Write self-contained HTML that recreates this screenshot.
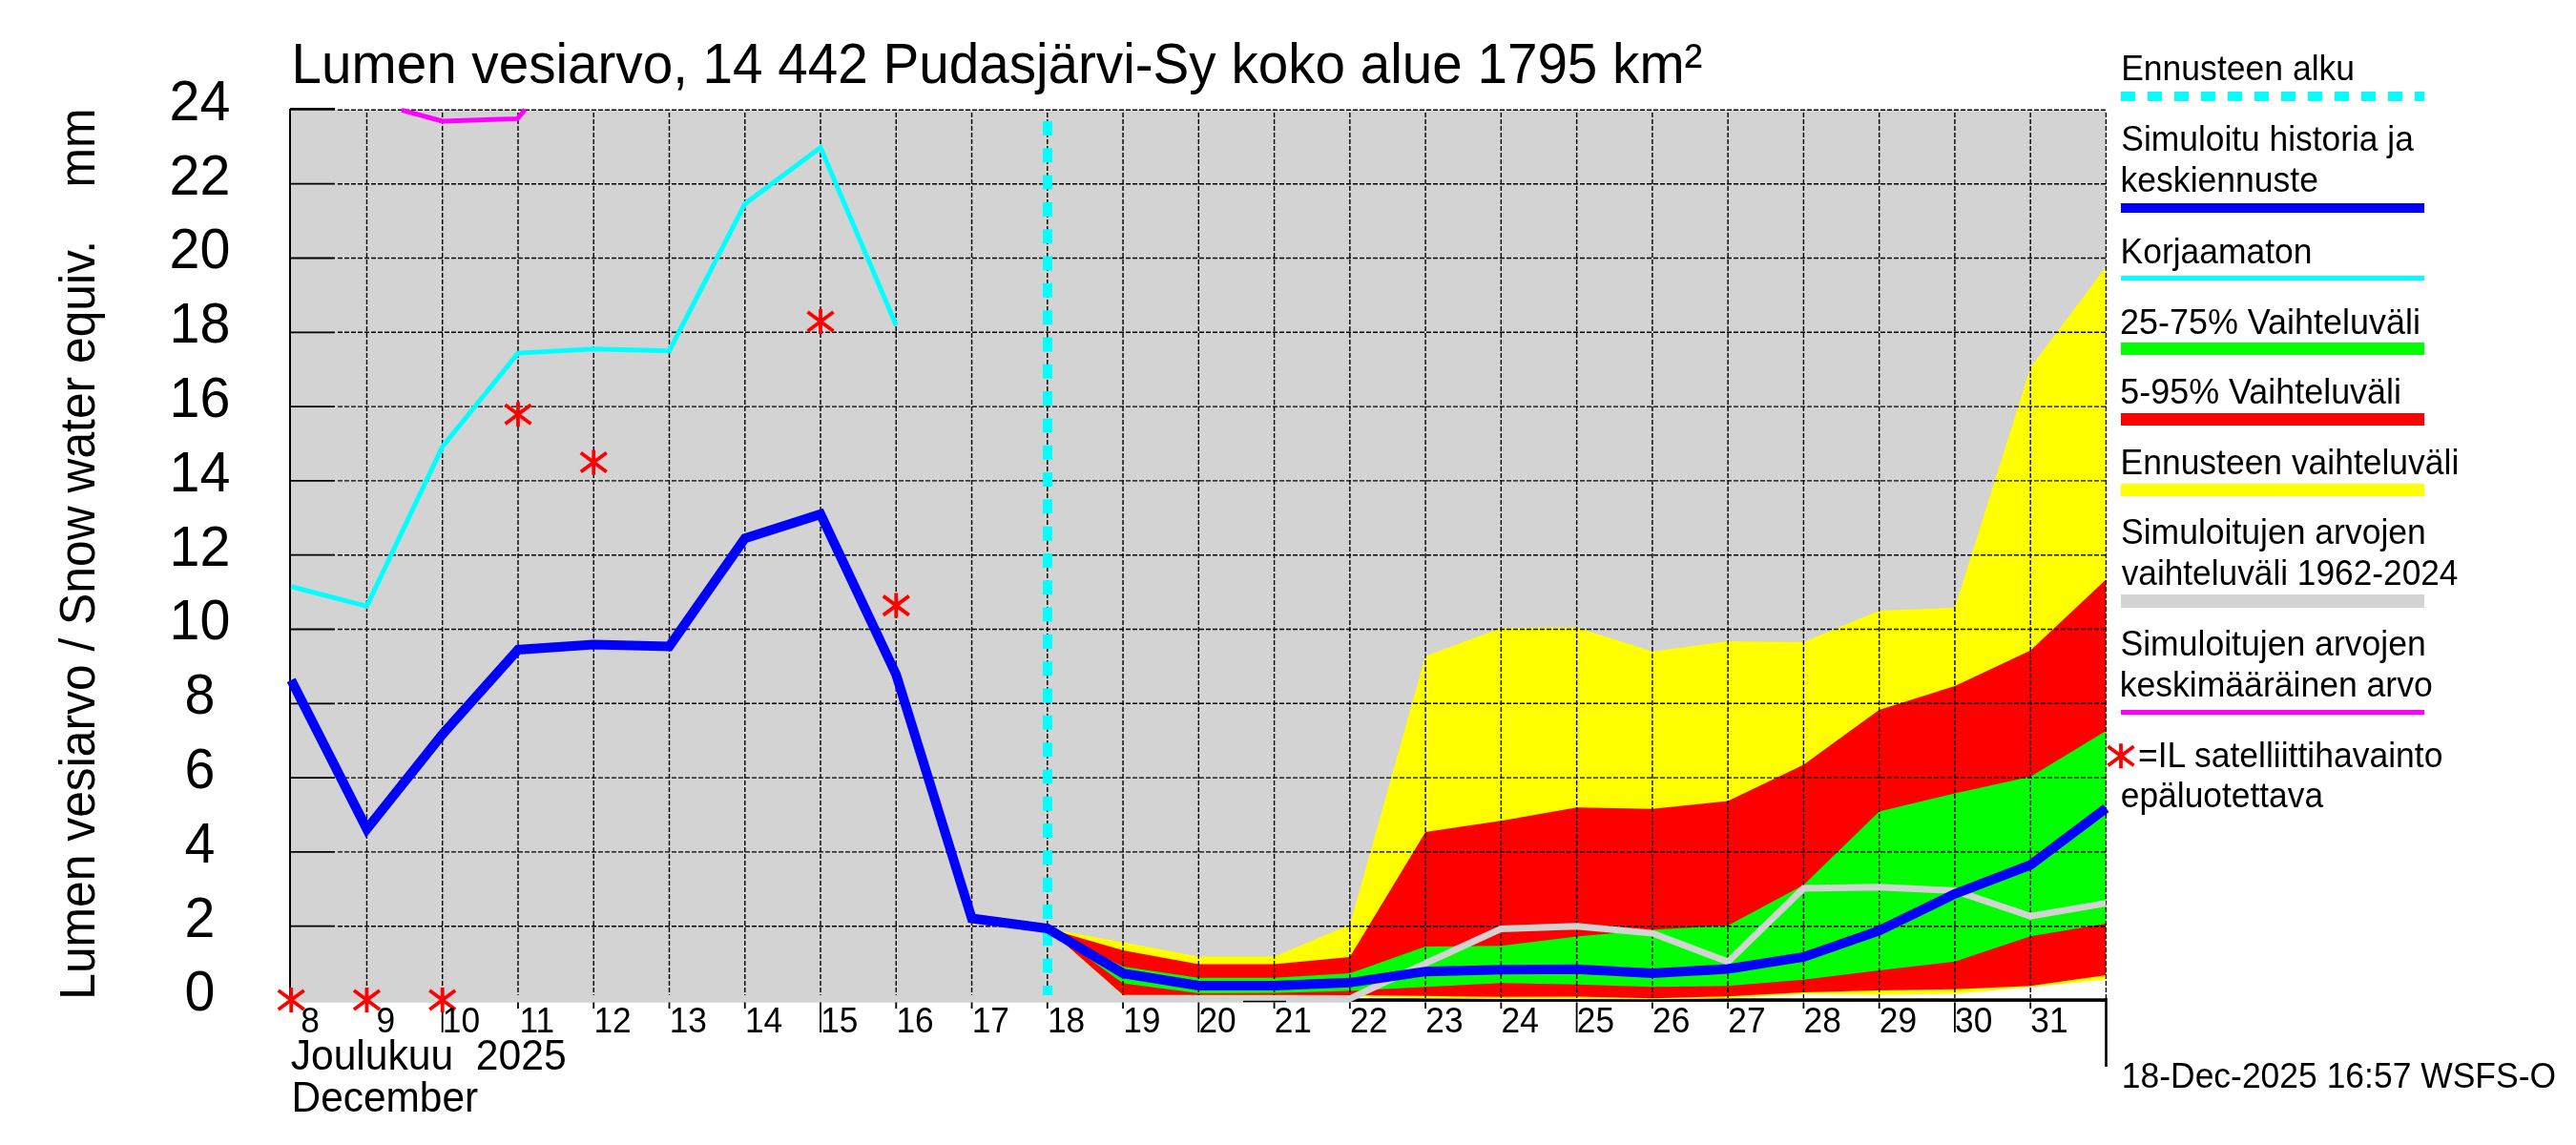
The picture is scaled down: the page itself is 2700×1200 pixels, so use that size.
<!DOCTYPE html><html><head><meta charset="utf-8"><style>html,body{margin:0;padding:0;background:#fff;width:2700px;height:1200px;overflow:hidden}</style></head><body><svg width="2700" height="1200" viewBox="0 0 2700 1200" style="display:block;white-space:pre;will-change:transform" font-family="Liberation Sans" xml:space="preserve">
<rect x="0" y="0" width="2700" height="1200" fill="#ffffff"/>
<defs><clipPath id="pc"><rect x="304" y="112.5" width="1903.6" height="938.3"/></clipPath><clipPath id="pc2"><rect x="304" y="115" width="1903.6" height="935.8"/></clipPath></defs>
<g clip-path="url(#pc2)">
<polygon points="305.20,115 2207.44,115 2207.44,946.58 2128.18,960.20 2048.92,933.36 1969.66,929.86 1890.40,931.02 1811.14,1008.04 1731.88,978.09 1652.62,970.70 1573.36,973.42 1494.10,1009.60 1414.84,1046.56 1335.58,1046.56 1256.32,1046.56 1177.06,1046.56 1097.80,1046.56 1018.54,1046.56 939.28,1046.56 860.02,1046.56 780.76,1046.56 701.50,1046.56 622.24,1046.56 542.98,1046.56 463.72,1046.56 384.46,1046.56 305.20,1046.56 305.20,1052" fill="#d3d3d3"/>
<rect x="304" y="1046" width="1110" height="5" fill="#d3d3d3"/>
<rect x="304" y="1046.3" width="1903.6" height="3.6" fill="#000"/>
<polygon points="1097.80,973.03 1177.06,987.43 1256.32,1002.60 1335.58,1002.60 1414.84,969.14 1494.10,687.51 1573.36,658.33 1652.62,657.56 1731.88,682.84 1811.14,671.95 1890.40,673.12 1969.66,640.05 2048.92,636.94 2128.18,385.25 2207.44,279.45 2207.44,1026.72 2128.18,1034.50 2048.92,1041.50 1969.66,1042.66 1890.40,1041.89 1811.14,1046.17 1731.88,1047.33 1652.62,1046.94 1573.36,1046.94 1494.10,1046.17 1414.84,1044.61 1335.58,1043.05 1256.32,1043.05 1177.06,1043.05 1097.80,973.03" fill="#ffff00"/>
<polygon points="1097.80,973.03 1177.06,995.99 1256.32,1010.38 1335.58,1010.38 1414.84,1002.99 1494.10,871.89 1573.36,860.22 1652.62,846.22 1731.88,847.78 1811.14,839.61 1890.40,801.49 1969.66,743.91 2048.92,719.02 2128.18,681.67 2207.44,607.37 2207.44,1022.05 2128.18,1033.33 2048.92,1036.83 1969.66,1038.00 1890.40,1039.94 1811.14,1044.22 1731.88,1046.17 1652.62,1044.61 1573.36,1044.80 1494.10,1043.83 1414.84,1043.05 1335.58,1042.66 1256.32,1042.66 1177.06,1042.66 1097.80,973.03" fill="#ff0000"/>
<polygon points="1097.80,973.03 1177.06,1013.10 1256.32,1024.77 1335.58,1024.77 1414.84,1020.10 1494.10,992.10 1573.36,991.32 1652.62,981.59 1731.88,974.59 1811.14,969.92 1890.40,927.52 1969.66,850.50 2048.92,831.44 2128.18,813.93 2207.44,766.09 2207.44,967.98 2128.18,981.20 2048.92,1007.65 1969.66,1016.99 1890.40,1026.72 1811.14,1033.33 1731.88,1034.30 1652.62,1031.77 1573.36,1030.22 1494.10,1034.30 1414.84,1038.39 1335.58,1040.72 1256.32,1041.11 1177.06,1030.61 1097.80,973.03" fill="#00ff00"/>
</g>
<g stroke="#000" fill="none">
<line x1="354" y1="1048.50" x2="2207.6" y2="1048.50" stroke-width="1.4" stroke-dasharray="5 2"/>
<line x1="304" y1="1048.50" x2="351" y2="1048.50" stroke-width="1.8"/>
<line x1="354" y1="970.70" x2="2207.6" y2="970.70" stroke-width="1.4" stroke-dasharray="5 2"/>
<line x1="304" y1="970.70" x2="351" y2="970.70" stroke-width="1.8"/>
<line x1="354" y1="892.90" x2="2207.6" y2="892.90" stroke-width="1.4" stroke-dasharray="5 2"/>
<line x1="304" y1="892.90" x2="351" y2="892.90" stroke-width="1.8"/>
<line x1="354" y1="815.10" x2="2207.6" y2="815.10" stroke-width="1.4" stroke-dasharray="5 2"/>
<line x1="304" y1="815.10" x2="351" y2="815.10" stroke-width="1.8"/>
<line x1="354" y1="737.30" x2="2207.6" y2="737.30" stroke-width="1.4" stroke-dasharray="5 2"/>
<line x1="304" y1="737.30" x2="351" y2="737.30" stroke-width="1.8"/>
<line x1="354" y1="659.50" x2="2207.6" y2="659.50" stroke-width="1.4" stroke-dasharray="5 2"/>
<line x1="304" y1="659.50" x2="351" y2="659.50" stroke-width="1.8"/>
<line x1="354" y1="581.70" x2="2207.6" y2="581.70" stroke-width="1.4" stroke-dasharray="5 2"/>
<line x1="304" y1="581.70" x2="351" y2="581.70" stroke-width="1.8"/>
<line x1="354" y1="503.90" x2="2207.6" y2="503.90" stroke-width="1.4" stroke-dasharray="5 2"/>
<line x1="304" y1="503.90" x2="351" y2="503.90" stroke-width="1.8"/>
<line x1="354" y1="426.10" x2="2207.6" y2="426.10" stroke-width="1.4" stroke-dasharray="5 2"/>
<line x1="304" y1="426.10" x2="351" y2="426.10" stroke-width="1.8"/>
<line x1="354" y1="348.30" x2="2207.6" y2="348.30" stroke-width="1.4" stroke-dasharray="5 2"/>
<line x1="304" y1="348.30" x2="351" y2="348.30" stroke-width="1.8"/>
<line x1="354" y1="270.50" x2="2207.6" y2="270.50" stroke-width="1.4" stroke-dasharray="5 2"/>
<line x1="304" y1="270.50" x2="351" y2="270.50" stroke-width="1.8"/>
<line x1="354" y1="192.70" x2="2207.6" y2="192.70" stroke-width="1.4" stroke-dasharray="5 2"/>
<line x1="304" y1="192.70" x2="351" y2="192.70" stroke-width="1.8"/>
<line x1="354" y1="115.20" x2="2207.6" y2="115.20" stroke-width="1.4" stroke-dasharray="5 2"/>
<line x1="304" y1="114.30" x2="351" y2="114.30" stroke-width="2.8"/>
<line x1="384.46" y1="118" x2="384.46" y2="1046" stroke-width="1.4" stroke-dasharray="5 2"/>
<line x1="463.72" y1="118" x2="463.72" y2="1046" stroke-width="1.4" stroke-dasharray="5 2"/>
<line x1="542.98" y1="118" x2="542.98" y2="1046" stroke-width="1.4" stroke-dasharray="5 2"/>
<line x1="622.24" y1="118" x2="622.24" y2="1046" stroke-width="1.4" stroke-dasharray="5 2"/>
<line x1="701.50" y1="118" x2="701.50" y2="1046" stroke-width="1.4" stroke-dasharray="5 2"/>
<line x1="780.76" y1="118" x2="780.76" y2="1046" stroke-width="1.4" stroke-dasharray="5 2"/>
<line x1="860.02" y1="118" x2="860.02" y2="1046" stroke-width="1.4" stroke-dasharray="5 2"/>
<line x1="939.28" y1="118" x2="939.28" y2="1046" stroke-width="1.4" stroke-dasharray="5 2"/>
<line x1="1018.54" y1="118" x2="1018.54" y2="1046" stroke-width="1.4" stroke-dasharray="5 2"/>
<line x1="1097.80" y1="118" x2="1097.80" y2="1046" stroke-width="1.4" stroke-dasharray="5 2"/>
<line x1="1177.06" y1="118" x2="1177.06" y2="1046" stroke-width="1.4" stroke-dasharray="5 2"/>
<line x1="1256.32" y1="118" x2="1256.32" y2="1046" stroke-width="1.4" stroke-dasharray="5 2"/>
<line x1="1335.58" y1="118" x2="1335.58" y2="1046" stroke-width="1.4" stroke-dasharray="5 2"/>
<line x1="1414.84" y1="118" x2="1414.84" y2="1046" stroke-width="1.4" stroke-dasharray="5 2"/>
<line x1="1494.10" y1="118" x2="1494.10" y2="1046" stroke-width="1.4" stroke-dasharray="5 2"/>
<line x1="1573.36" y1="118" x2="1573.36" y2="1046" stroke-width="1.4" stroke-dasharray="5 2"/>
<line x1="1652.62" y1="118" x2="1652.62" y2="1046" stroke-width="1.4" stroke-dasharray="5 2"/>
<line x1="1731.88" y1="118" x2="1731.88" y2="1046" stroke-width="1.4" stroke-dasharray="5 2"/>
<line x1="1811.14" y1="118" x2="1811.14" y2="1046" stroke-width="1.4" stroke-dasharray="5 2"/>
<line x1="1890.40" y1="118" x2="1890.40" y2="1046" stroke-width="1.4" stroke-dasharray="5 2"/>
<line x1="1969.66" y1="118" x2="1969.66" y2="1046" stroke-width="1.4" stroke-dasharray="5 2"/>
<line x1="2048.92" y1="118" x2="2048.92" y2="1046" stroke-width="1.4" stroke-dasharray="5 2"/>
<line x1="2128.18" y1="118" x2="2128.18" y2="1046" stroke-width="1.4" stroke-dasharray="5 2"/>
<line x1="2207.44" y1="118" x2="2207.44" y2="1046" stroke-width="1.4" stroke-dasharray="5 2"/>
<line x1="304" y1="114" x2="304" y2="1050" stroke-width="2"/>
<line x1="384.46" y1="1050.5" x2="384.46" y2="1057" stroke-width="1.8"/>
<line x1="463.72" y1="1050.5" x2="463.72" y2="1082" stroke-width="1.8"/>
<line x1="542.98" y1="1050.5" x2="542.98" y2="1057" stroke-width="1.8"/>
<line x1="622.24" y1="1050.5" x2="622.24" y2="1057" stroke-width="1.8"/>
<line x1="701.50" y1="1050.5" x2="701.50" y2="1057" stroke-width="1.8"/>
<line x1="780.76" y1="1050.5" x2="780.76" y2="1057" stroke-width="1.8"/>
<line x1="860.02" y1="1050.5" x2="860.02" y2="1082" stroke-width="1.8"/>
<line x1="939.28" y1="1050.5" x2="939.28" y2="1057" stroke-width="1.8"/>
<line x1="1018.54" y1="1050.5" x2="1018.54" y2="1057" stroke-width="1.8"/>
<line x1="1097.80" y1="1050.5" x2="1097.80" y2="1057" stroke-width="1.8"/>
<line x1="1177.06" y1="1050.5" x2="1177.06" y2="1057" stroke-width="1.8"/>
<line x1="1256.32" y1="1050.5" x2="1256.32" y2="1082" stroke-width="1.8"/>
<line x1="1335.58" y1="1050.5" x2="1335.58" y2="1057" stroke-width="1.8"/>
<line x1="1414.84" y1="1050.5" x2="1414.84" y2="1057" stroke-width="1.8"/>
<line x1="1494.10" y1="1050.5" x2="1494.10" y2="1057" stroke-width="1.8"/>
<line x1="1573.36" y1="1050.5" x2="1573.36" y2="1057" stroke-width="1.8"/>
<line x1="1652.62" y1="1050.5" x2="1652.62" y2="1082" stroke-width="1.8"/>
<line x1="1731.88" y1="1050.5" x2="1731.88" y2="1057" stroke-width="1.8"/>
<line x1="1811.14" y1="1050.5" x2="1811.14" y2="1057" stroke-width="1.8"/>
<line x1="1890.40" y1="1050.5" x2="1890.40" y2="1057" stroke-width="1.8"/>
<line x1="1969.66" y1="1050.5" x2="1969.66" y2="1057" stroke-width="1.8"/>
<line x1="2048.92" y1="1050.5" x2="2048.92" y2="1082" stroke-width="1.8"/>
<line x1="2128.18" y1="1050.5" x2="2128.18" y2="1057" stroke-width="1.8"/>
</g>
<g clip-path="url(#pc2)">
<polyline points="305.20,1046.56 384.46,1046.56 463.72,1046.56 542.98,1046.56 622.24,1046.56 701.50,1046.56 780.76,1046.56 860.02,1046.56 939.28,1046.56 1018.54,1046.56 1097.80,1046.56 1177.06,1046.56 1256.32,1046.56 1335.58,1046.56 1414.84,1046.56 1494.10,1009.60 1573.36,973.42 1652.62,970.70 1731.88,978.09 1811.14,1008.04 1890.40,931.02 1969.66,929.86 2048.92,933.36 2128.18,960.20 2207.44,946.58" fill="none" stroke="#d3d3d3" stroke-width="7" stroke-linejoin="miter"/>
</g>
<rect x="1303" y="1048.8" width="45" height="1.5" fill="#000"/>
<g fill="none" stroke-linejoin="miter">
<polyline points="305.20,614.76 384.46,635.38 463.72,468.11 542.98,370.08 622.24,365.80 701.50,367.75 780.76,213.71 860.02,154.58 939.28,340.91" stroke="#00ffff" stroke-width="5"/>
<polyline points="421.0,115.3 463.6,126.9 542.5,124.4 550.3,114.7" stroke="#ff00ff" stroke-width="5"/>
</g>
<line x1="1098" y1="127" x2="1098" y2="1043" stroke="#00ffff" stroke-width="10" stroke-dasharray="15 13.31"/>
<polyline points="305.20,712.79 384.46,868.78 463.72,769.59 542.98,680.89 622.24,675.45 701.50,677.39 780.76,564.20 860.02,538.91 939.28,706.96 1018.54,962.53 1097.80,973.03 1177.06,1020.10 1256.32,1032.94 1335.58,1032.94 1414.84,1029.83 1494.10,1018.16 1573.36,1016.21 1652.62,1015.82 1731.88,1020.10 1811.14,1015.43 1890.40,1002.99 1969.66,975.37 2048.92,936.86 2128.18,906.51 2207.44,847.00" fill="none" stroke="#0000ff" stroke-width="10" stroke-linejoin="miter" stroke-miterlimit="10"/>
<path d="M305.20,1035.00V1061.00M291.70,1038.00L318.70,1058.00M291.70,1058.00L318.70,1038.00" stroke="#ff0000" stroke-width="3.8" fill="none"/>
<path d="M384.46,1035.00V1061.00M370.96,1038.00L397.96,1058.00M370.96,1058.00L397.96,1038.00" stroke="#ff0000" stroke-width="3.8" fill="none"/>
<path d="M463.72,1035.00V1061.00M450.22,1038.00L477.22,1058.00M450.22,1058.00L477.22,1038.00" stroke="#ff0000" stroke-width="3.8" fill="none"/>
<path d="M542.98,421.27V447.27M529.48,424.27L556.48,444.27M529.48,444.27L556.48,424.27" stroke="#ff0000" stroke-width="3.8" fill="none"/>
<path d="M622.24,471.45V497.45M608.74,474.45L635.74,494.45M608.74,494.45L635.74,474.45" stroke="#ff0000" stroke-width="3.8" fill="none"/>
<path d="M860.02,324.02V350.02M846.52,327.02L873.52,347.02M846.52,347.02L873.52,327.02" stroke="#ff0000" stroke-width="3.8" fill="none"/>
<path d="M939.28,621.60V647.60M925.78,624.60L952.78,644.60M925.78,644.60L952.78,624.60" stroke="#ff0000" stroke-width="3.8" fill="none"/>
<line x1="2207.5" y1="1046" x2="2207.5" y2="1118" stroke="#000" stroke-width="2.6"/>
<text transform="translate(209.5,1059.40) scale(0.985,1)" text-anchor="middle" font-size="58.3">0</text>
<text transform="translate(209.5,981.60) scale(0.985,1)" text-anchor="middle" font-size="58.3">2</text>
<text transform="translate(209.5,903.80) scale(0.985,1)" text-anchor="middle" font-size="58.3">4</text>
<text transform="translate(209.5,826.00) scale(0.985,1)" text-anchor="middle" font-size="58.3">6</text>
<text transform="translate(209.5,748.20) scale(0.985,1)" text-anchor="middle" font-size="58.3">8</text>
<text transform="translate(209.5,670.40) scale(0.985,1)" text-anchor="middle" font-size="58.3">10</text>
<text transform="translate(209.5,592.60) scale(0.985,1)" text-anchor="middle" font-size="58.3">12</text>
<text transform="translate(209.5,514.80) scale(0.985,1)" text-anchor="middle" font-size="58.3">14</text>
<text transform="translate(209.5,437.00) scale(0.985,1)" text-anchor="middle" font-size="58.3">16</text>
<text transform="translate(209.5,359.20) scale(0.985,1)" text-anchor="middle" font-size="58.3">18</text>
<text transform="translate(209.5,281.40) scale(0.985,1)" text-anchor="middle" font-size="58.3">20</text>
<text transform="translate(209.5,203.60) scale(0.985,1)" text-anchor="middle" font-size="58.3">22</text>
<text transform="translate(209.5,125.80) scale(0.985,1)" text-anchor="middle" font-size="58.3">24</text>
<text transform="translate(325.00,1081.7) scale(0.96,1)" text-anchor="middle" font-size="36.8">8</text>
<text transform="translate(404.26,1081.7) scale(0.96,1)" text-anchor="middle" font-size="36.8">9</text>
<text transform="translate(483.52,1081.7) scale(0.96,1)" text-anchor="middle" font-size="36.8">10</text>
<text transform="translate(562.78,1081.7) scale(0.96,1)" text-anchor="middle" font-size="36.8">11</text>
<text transform="translate(642.04,1081.7) scale(0.96,1)" text-anchor="middle" font-size="36.8">12</text>
<text transform="translate(721.30,1081.7) scale(0.96,1)" text-anchor="middle" font-size="36.8">13</text>
<text transform="translate(800.56,1081.7) scale(0.96,1)" text-anchor="middle" font-size="36.8">14</text>
<text transform="translate(879.82,1081.7) scale(0.96,1)" text-anchor="middle" font-size="36.8">15</text>
<text transform="translate(959.08,1081.7) scale(0.96,1)" text-anchor="middle" font-size="36.8">16</text>
<text transform="translate(1038.34,1081.7) scale(0.96,1)" text-anchor="middle" font-size="36.8">17</text>
<text transform="translate(1117.60,1081.7) scale(0.96,1)" text-anchor="middle" font-size="36.8">18</text>
<text transform="translate(1196.86,1081.7) scale(0.96,1)" text-anchor="middle" font-size="36.8">19</text>
<text transform="translate(1276.12,1081.7) scale(0.96,1)" text-anchor="middle" font-size="36.8">20</text>
<text transform="translate(1355.38,1081.7) scale(0.96,1)" text-anchor="middle" font-size="36.8">21</text>
<text transform="translate(1434.64,1081.7) scale(0.96,1)" text-anchor="middle" font-size="36.8">22</text>
<text transform="translate(1513.90,1081.7) scale(0.96,1)" text-anchor="middle" font-size="36.8">23</text>
<text transform="translate(1593.16,1081.7) scale(0.96,1)" text-anchor="middle" font-size="36.8">24</text>
<text transform="translate(1672.42,1081.7) scale(0.96,1)" text-anchor="middle" font-size="36.8">25</text>
<text transform="translate(1751.68,1081.7) scale(0.96,1)" text-anchor="middle" font-size="36.8">26</text>
<text transform="translate(1830.94,1081.7) scale(0.96,1)" text-anchor="middle" font-size="36.8">27</text>
<text transform="translate(1910.20,1081.7) scale(0.96,1)" text-anchor="middle" font-size="36.8">28</text>
<text transform="translate(1989.46,1081.7) scale(0.96,1)" text-anchor="middle" font-size="36.8">29</text>
<text transform="translate(2068.72,1081.7) scale(0.96,1)" text-anchor="middle" font-size="36.8">30</text>
<text transform="translate(2147.98,1081.7) scale(0.96,1)" text-anchor="middle" font-size="36.8">31</text>
<text transform="translate(305.57,86.80) scale(0.9580,1)" font-size="59.1" fill="#000" >Lumen vesiarvo, 14 442 Pudasjärvi-Sy koko alue 1795 km²</text>
<text transform="translate(304.65,1121.00) scale(0.9686,1)" font-size="44.0" fill="#000" >Joulukuu  2025</text>
<text transform="translate(305.51,1164.50) scale(0.9661,1)" font-size="43.9" fill="#000" >December</text>
<text transform="translate(99,1047.78) rotate(-90) scale(0.9537,1)" font-size="52.2">Lumen vesiarvo / Snow water equiv.    mm</text>
<text transform="translate(2223.16,83.80) scale(0.9554,1)" font-size="37.2" fill="#000" >Ennusteen alku</text>
<line x1="2223" y1="101" x2="2541" y2="101" stroke="#00ffff" stroke-width="10" stroke-dasharray="15 13"/>
<text transform="translate(2223.33,157.80) scale(0.9508,1)" font-size="37.2" fill="#000" >Simuloitu historia ja</text>
<text transform="translate(2222.61,200.90) scale(0.9550,1)" font-size="37.2" fill="#000" >keskiennuste</text>
<rect x="2223" y="213" width="318" height="10" fill="#0000ff"/>
<text transform="translate(2222.57,275.50) scale(0.9523,1)" font-size="37.2" fill="#000" >Korjaamaton</text>
<rect x="2223" y="289" width="318" height="5" fill="#00ffff"/>
<text transform="translate(2222.00,349.50) scale(0.9662,1)" font-size="37.2" fill="#000" >25-75% Vaihteluväli</text>
<rect x="2223" y="359" width="318" height="13" fill="#00ff00"/>
<text transform="translate(2222.36,423.10) scale(0.9648,1)" font-size="37.2" fill="#000" >5-95% Vaihteluväli</text>
<rect x="2223" y="433" width="318" height="13" fill="#ff0000"/>
<text transform="translate(2222.56,497.20) scale(0.9531,1)" font-size="37.2" fill="#000" >Ennusteen vaihteluväli</text>
<rect x="2223" y="507" width="318" height="13" fill="#ffff00"/>
<text transform="translate(2223.02,570.20) scale(0.9552,1)" font-size="37.2" fill="#000" >Simuloitujen arvojen</text>
<text transform="translate(2223.65,613.30) scale(0.9480,1)" font-size="37.2" fill="#000" >vaihteluväli 1962-2024</text>
<rect x="2223" y="623" width="318" height="14" fill="#d3d3d3"/>
<text transform="translate(2222.42,686.90) scale(0.9567,1)" font-size="37.2" fill="#000" >Simuloitujen arvojen</text>
<text transform="translate(2221.71,729.70) scale(0.9564,1)" font-size="37.2" fill="#000" >keskimääräinen arvo</text>
<rect x="2223" y="744" width="318" height="5" fill="#ff00ff"/>
<path d="M2223.00,779.20V805.20M2209.50,782.20L2236.50,802.20M2209.50,802.20L2236.50,782.20" stroke="#ff0000" stroke-width="3.8" fill="none"/>
<text transform="translate(2241.02,804.00) scale(0.9548,1)" font-size="37.2" fill="#000" >=IL satelliittihavainto</text>
<text transform="translate(2222.79,846.30) scale(0.9508,1)" font-size="37.2" fill="#000" >epäluotettava</text>
<text transform="translate(2223.76,1139.80) scale(0.9588,1)" font-size="37.0" fill="#000" >18-Dec-2025 16:57 WSFS-O</text>
</svg></body></html>
